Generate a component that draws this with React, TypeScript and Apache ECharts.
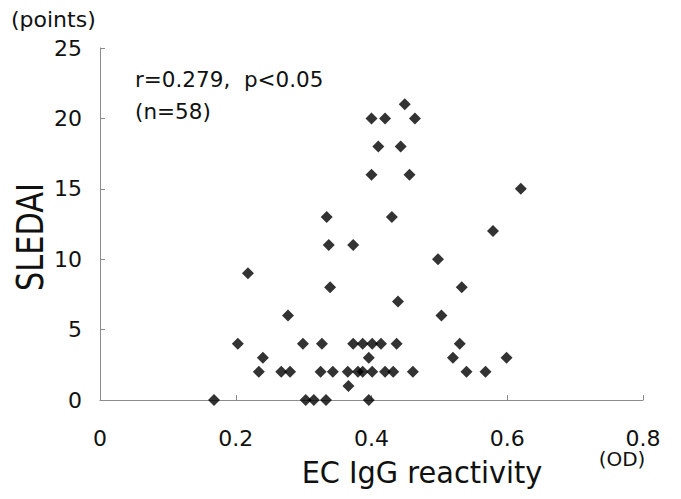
import React, { useEffect, useRef } from "react";
import * as echarts from "echarts";

// EC IgG reactivity (OD) vs SLEDAI (points)
const odValues: number[] = [
  0.168, 0.303, 0.315, 0.333, 0.396,
  0.366,
  0.234, 0.267, 0.28, 0.325, 0.343, 0.365, 0.38, 0.387, 0.401, 0.42, 0.432, 0.461, 0.54, 0.568,
  0.24, 0.396, 0.52, 0.599,
  0.203, 0.299, 0.327, 0.373, 0.387, 0.401, 0.414, 0.437, 0.53,
  0.277, 0.503,
  0.439,
  0.339, 0.533,
  0.218,
  0.498,
  0.337, 0.373,
  0.579,
  0.334, 0.43,
  0.62,
  0.4, 0.456,
  0.41, 0.443,
  0.4, 0.42, 0.464,
  0.449,
];
const sledaiValues: number[] = [
  0, 0, 0, 0, 0,
  1,
  2, 2, 2, 2, 2, 2, 2, 2, 2, 2, 2, 2, 2, 2,
  3, 3, 3, 3,
  4, 4, 4, 4, 4, 4, 4, 4, 4,
  6, 6,
  7,
  8, 8,
  9,
  10,
  11, 11,
  12,
  13, 13,
  15,
  16, 16,
  18, 18,
  20, 20, 20,
  21,
];
const annotationLines: string[] = ["r=0.279,  p<0.05", "(n=58)"];

const FONT = "DejaVu Sans";

export default function App() {
  const ref = useRef<HTMLDivElement>(null);
  useEffect(() => {
    if (!ref.current) return;
    const chart = echarts.init(ref.current, null, { renderer: "svg" });
    const data = odValues.map((v, i) => [v, sledaiValues[i]]);
    chart.setOption({
      animation: false,
      backgroundColor: "#ffffff",
      grid: { left: 100, right: 38, top: 48, bottom: 99, containLabel: false },
      xAxis: {
        type: "value",
        min: 0,
        max: 0.8,
        interval: 0.2,
        axisLine: { show: true, lineStyle: { color: "#8c8c8c", width: 1 } },
        axisTick: { show: true, inside: true, length: 5, lineStyle: { color: "#8c8c8c" } },
        splitLine: { show: false },
        axisLabel: {
          color: "#111",
          fontSize: 22,
          fontFamily: FONT,
          margin: 27,
          formatter: (v: number) => (v === 0 ? "0" : String(Math.round(v * 10) / 10)),
        },
      },
      yAxis: {
        type: "value",
        min: 0,
        max: 25,
        interval: 5,
        axisLine: { show: true, lineStyle: { color: "#8c8c8c", width: 1 } },
        axisTick: { show: true, inside: true, length: 5, lineStyle: { color: "#8c8c8c" } },
        splitLine: { show: false },
        axisLabel: {
          color: "#111",
          fontSize: 22,
          fontFamily: FONT,
          margin: 18,
          padding: [8, 0, 0, 0],
        },
      },
      series: [
        {
          type: "scatter",
          data,
          symbol: "diamond",
          symbolSize: 12,
          itemStyle: { color: "#000" },
        },
      ],
      graphic: [
        {
          type: "text",
          x: 11,
          y: 19,
          style: {
            text: "(points)",
            fontSize: 22,
            fontFamily: FONT,
            fill: "#111",
            verticalAlign: "middle",
          },
        },
        {
          type: "text",
          x: 30,
          y: 237,
          rotation: Math.PI / 2,
          scaleX: 0.82,
          style: {
            text: "SLEDAI",
            fontSize: 37,
            fontFamily: FONT,
            fill: "#111",
            align: "center",
            verticalAlign: "middle",
          },
        },
        {
          type: "text",
          x: 135,
          y: 79,
          style: {
            text: annotationLines[0],
            fontSize: 21.5,
            fontFamily: FONT,
            fill: "#111",
            verticalAlign: "middle",
          },
        },
        {
          type: "text",
          x: 135,
          y: 111,
          style: {
            text: annotationLines[1],
            fontSize: 21.5,
            fontFamily: FONT,
            fill: "#111",
            verticalAlign: "middle",
          },
        },
        {
          type: "text",
          x: 422,
          y: 473,
          scaleX: 0.96,
          style: {
            text: "EC IgG reactivity",
            fontSize: 30,
            fontFamily: FONT,
            fill: "#111",
            align: "center",
            verticalAlign: "middle",
          },
        },
        {
          type: "text",
          x: 622,
          y: 459,
          style: {
            text: "(OD)",
            fontSize: 20,
            fontFamily: FONT,
            fill: "#111",
            align: "center",
            verticalAlign: "middle",
          },
        },
      ],
    });
    return () => chart.dispose();
  }, []);
  return <div ref={ref} style={{ width: 681, height: 499, position: "absolute", left: 0, top: 0 }} />;
}
